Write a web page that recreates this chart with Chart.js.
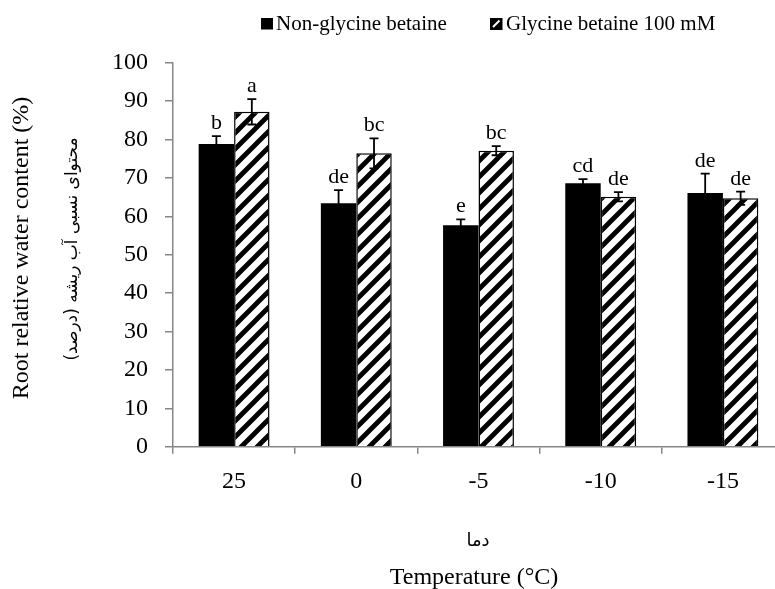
<!DOCTYPE html>
<html>
<head>
<meta charset="utf-8">
<script src="https://cdn.jsdelivr.net/npm/chart.js@4.4.1/dist/chart.umd.min.js"></script>
<style>
  html, body { margin: 0; padding: 0; background: #fff; overflow: hidden; width: 775px; height: 589px; }
  #wrap { position: absolute; left: 0; top: 0; width: 800px; height: 589px; }
</style>
</head>
<body>
<div id="wrap"><canvas id="c" width="800" height="589"></canvas></div>
<script>
const categories = ['25', '0', '-5', '-10', '-15'];
const nonGlycine = [78.8, 63.4, 57.7, 68.6, 66.1];
const nonGlycineErr = [2.1, 3.4, 1.5, 1.1, 5.0];
const glycine100 = [87.2, 76.4, 77.1, 65.1, 64.7];
const glycine100Err = [3.3, 3.9, 1.2, 1.2, 1.7];
const nonGlycineLetters = ['b', 'de', 'e', 'cd', 'de'];
const glycine100Letters = ['a', 'bc', 'bc', 'de', 'de'];
const yTicks = [0, 10, 20, 30, 40, 50, 60, 70, 80, 90, 100];

const SERIF = '"Liberation Serif", "Times New Roman", serif';
const AXIS_GRAY = '#868686';

function makeHatch() {
  const s = 16;
  const pc = document.createElement('canvas');
  pc.width = s; pc.height = s;
  const g = pc.getContext('2d');
  g.fillStyle = '#fff';
  g.fillRect(0, 0, s, s);
  g.strokeStyle = '#000';
  g.lineWidth = 4.8;
  g.lineCap = 'square';
  g.beginPath();
  g.moveTo(-2, s + 2); g.lineTo(s + 2, -2);
  g.moveTo(-s / 2 - 2, s / 2 + 2); g.lineTo(s / 2 + 2, -s / 2 - 2);
  g.moveTo(s / 2 - 2, s * 1.5 + 2); g.lineTo(s * 1.5 + 2, s / 2 - 2);
  g.stroke();
  return g.createPattern(pc, 'repeat');
}

const ctx0 = document.getElementById('c').getContext('2d');
const hatch = makeHatch();

const extras = {
  id: 'extras',
  afterDatasetsDraw(chart) {
    const ctx = chart.ctx;
    const y = chart.scales.y;
    const sets = [
      { vals: nonGlycine, errs: nonGlycineErr, letters: nonGlycineLetters },
      { vals: glycine100, errs: glycine100Err, letters: glycine100Letters }
    ];
    ctx.save();
    sets.forEach((s, di) => {
      const meta = chart.getDatasetMeta(di);
      meta.data.forEach((bar, i) => {
        const x = bar.x;
        const top = y.getPixelForValue(s.vals[i] + s.errs[i]);
        const bot = y.getPixelForValue(s.vals[i] - s.errs[i]);
        ctx.strokeStyle = '#000';
        ctx.lineWidth = 1.8;
        ctx.beginPath();
        ctx.moveTo(x, top); ctx.lineTo(x, bot);
        ctx.moveTo(x - 4.5, top); ctx.lineTo(x + 4.5, top);
        ctx.moveTo(x - 4.5, bot); ctx.lineTo(x + 4.5, bot);
        ctx.stroke();
        ctx.fillStyle = '#000';
        ctx.font = '22px ' + SERIF;
        ctx.textAlign = 'center';
        ctx.textBaseline = 'alphabetic';
        ctx.fillText(s.letters[i], x, top - 7);
      });
    });
    ctx.restore();
  },
  afterDraw(chart) {
    const ctx = chart.ctx;
    ctx.save();
    // Legend
    ctx.font = '21px ' + SERIF;
    ctx.textBaseline = 'alphabetic';
    ctx.textAlign = 'left';
    ctx.fillStyle = '#000';
    ctx.fillRect(261, 18, 12, 11.5);
    ctx.fillText('Non-glycine betaine', 276, 30);
    // hatched legend box
    ctx.fillStyle = '#000';
    ctx.fillRect(490, 18, 12.5, 12);
    ctx.strokeStyle = '#fff';
    ctx.lineWidth = 2;
    ctx.beginPath();
    ctx.moveTo(493, 27); ctx.lineTo(499.5, 20.5);
    ctx.stroke();
    ctx.fillStyle = '#000';
    ctx.fillText('Glycine betaine 100 mM', 506, 30);

    // X titles
    ctx.textAlign = 'center';
    ctx.font = '24px ' + SERIF;
    ctx.fillText('Temperature (°C)', 474, 584);
    ctx.font = '18px "DejaVu Sans"';
    ctx.direction = 'rtl';
    ctx.textBaseline = 'middle';
    ctx.fillText('دما', 478, 541);

    // Y titles
    ctx.save();
    ctx.translate(22, 248);
    ctx.rotate(-Math.PI / 2);
    ctx.direction = 'ltr';
    ctx.font = '24px ' + SERIF;
    ctx.textBaseline = 'middle';
    ctx.fillText('Root relative water content (%)', 0, 0);
    ctx.restore();

    ctx.save();
    ctx.translate(73, 249);
    ctx.rotate(-Math.PI / 2);
    ctx.direction = 'rtl';
    ctx.font = '17px "DejaVu Sans"';
    ctx.textAlign = 'center';
    ctx.textBaseline = 'middle';
    ctx.fillText('محتوای نسبی آب ریشه (درصد)', 0, 0);
    ctx.restore();

    ctx.restore();
  }
};

new Chart(ctx0, {
  type: 'bar',
  data: {
    labels: categories,
    datasets: [
      {
        label: 'Non-glycine betaine',
        data: nonGlycine,
        backgroundColor: '#000',
        borderColor: '#000',
        borderWidth: 0,
        categoryPercentage: 0.58,
        barPercentage: 1.0
      },
      {
        label: 'Glycine betaine 100 mM',
        data: glycine100,
        backgroundColor: hatch,
        borderColor: '#000',
        borderWidth: 1.5,
        categoryPercentage: 0.58,
        barPercentage: 1.0
      }
    ]
  },
  options: {
    responsive: false,
    animation: false,
    events: [],
    layout: { padding: { top: 62.7, right: 16, left: 0, bottom: 0 } },
    plugins: {
      legend: { display: false },
      tooltip: { enabled: false },
      title: { display: false }
    },
    scales: {
      x: {
        grid: { display: true, drawOnChartArea: false, tickLength: 7, color: AXIS_GRAY, lineWidth: 1.5 },
        border: { display: true, color: AXIS_GRAY, width: 1.5 },
        ticks: { color: '#000', font: { family: SERIF, size: 24 }, padding: 14, maxRotation: 0 },
        afterFit(scale) { scale.height = 589 - 446.7; }
      },
      y: {
        min: 0,
        max: 100,
        afterBuildTicks(scale) { scale.ticks = yTicks.map(v => ({ value: v })); },
        grid: { display: true, drawOnChartArea: false, tickLength: 8, color: AXIS_GRAY, lineWidth: 1.5 },
        border: { display: true, color: AXIS_GRAY, width: 1.5 },
        ticks: { color: '#000', font: { family: SERIF, size: 24 }, padding: 17 },
        afterFit(scale) { scale.width = 173; }
      }
    }
  },
  plugins: [extras]
});
</script>
</body>
</html>
